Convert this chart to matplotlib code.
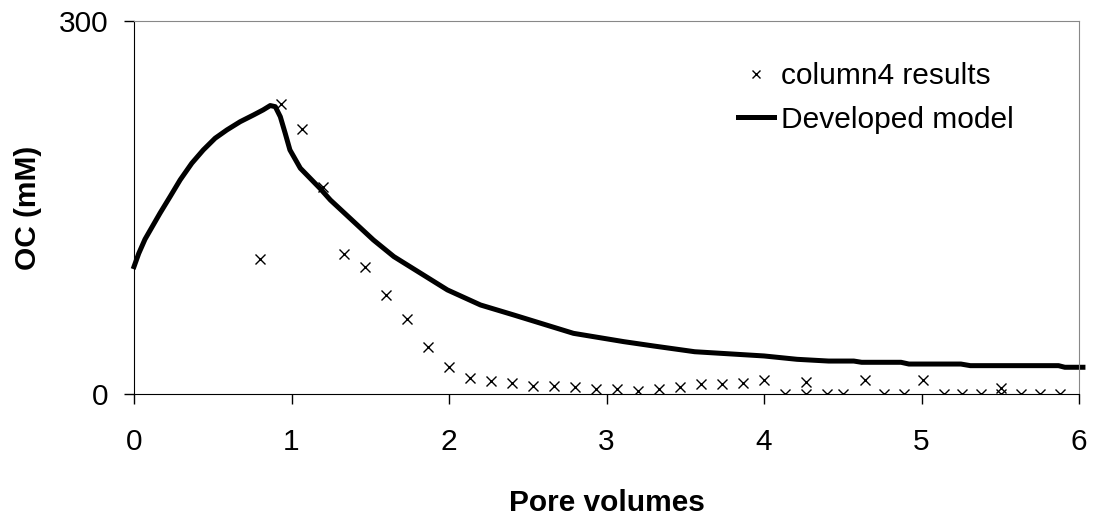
import numpy as np
import matplotlib
matplotlib.use("Agg")
import matplotlib.pyplot as plt

plt.rcParams['font.family'] = ['Liberation Sans', 'DejaVu Sans']

# column4 measured points (pore volumes, OC mM)
pv_meas = [0.80, 0.933, 1.067, 1.20, 1.333, 1.467, 1.60, 1.733, 1.867, 2.00,
           2.133, 2.267, 2.40, 2.533, 2.667, 2.80, 2.933, 3.067, 3.20, 3.333,
           3.467, 3.60, 3.733, 3.867, 4.00, 4.133, 4.267, 4.267, 4.40, 4.50,
           4.64, 4.76, 4.89, 5.01, 5.14, 5.26, 5.38, 5.505, 5.505, 5.63,
           5.75, 5.88]
oc_meas = [108.6, 233.3, 213.0, 166.8, 112.6, 102.0, 79.6, 60.6, 37.6, 22.0,
           12.6, 10.5, 9.1, 6.4, 6.4, 5.4, 4.3, 4.3, 2.4, 4.3,
           5.4, 7.8, 7.8, 9.1, 11.3, 0.0, 0.0, 9.9, 0.0, 0.0,
           11.3, 0.0, 0.0, 11.3, 0.0, 0.0, 0.0, 0.0, 4.6, 0.0,
           0.0, 0.0]

# developed model curve
pv_model = [0.0, 0.03, 0.07, 0.165, 0.229, 0.293, 0.367, 0.44, 0.515, 0.59,
            0.674, 0.76, 0.82, 0.865, 0.897, 0.929, 0.96, 0.99, 1.056, 1.18,
            1.247, 1.395, 1.52, 1.65, 1.82, 1.99, 2.2, 2.41, 2.79, 3.11,
            3.30, 3.56, 4.0, 4.21, 4.41, 4.57, 4.62, 4.87, 4.92, 5.25,
            5.31, 5.87, 5.91, 6.025]
oc_model = [102.4, 113.0, 124.5, 145.4, 158.7, 172.2, 185.6, 196.3, 205.7, 212.4,
            219.0, 224.5, 228.5, 232.0, 231.1, 223.0, 209.7, 196.3, 181.6, 165.5,
            156.0, 138.6, 123.9, 110.5, 97.1, 83.7, 71.6, 63.6, 48.8, 42.1,
            38.6, 34.0, 30.6, 27.9, 26.5, 26.5, 25.5, 25.5, 24.1, 24.1,
            22.8, 22.8, 21.5, 21.5]

fig = plt.figure(figsize=(10.96, 5.16), dpi=100)
ax = fig.add_axes([134/1096, 1-394/516, (1079-134)/1096, (394-21)/516])

ax.plot(pv_meas, oc_meas, linestyle='none', marker='x', color='black',
        markersize=7, markeredgewidth=1.0, label='column4 results')
ax.plot(pv_model, oc_model, color='black', linewidth=3.6,
        solid_joinstyle='round', clip_on=False, label='Developed model')

ax.set_xlim(0, 6)
ax.set_ylim(0, 300)
ax.set_xticks(range(7))
ax.set_yticks([0, 300])

for s in ['top', 'right']:
    ax.spines[s].set_color('#888888')
for s in ['left', 'bottom']:
    ax.spines[s].set_color('black')
ax.tick_params(axis='both', labelsize=21.5, length=7.2, direction='out', width=1)
ax.tick_params(axis='x', pad=17)
ax.tick_params(axis='y', pad=11.5)

ax.set_xlabel('Pore volumes', fontsize=21.5, fontweight='bold', labelpad=24)
ax.set_ylabel('OC (mM)', fontsize=21.5, fontweight='bold', labelpad=12)

leg = ax.legend(loc='upper left', bbox_to_anchor=((738-134)/945, 1-(62-21)/373),
                frameon=False, fontsize=21.5, handlelength=1.2,
                handletextpad=0.25, labelspacing=0.52, markerscale=0.8,
                borderaxespad=0, borderpad=0)

fig.savefig('out.png', dpi=100)
